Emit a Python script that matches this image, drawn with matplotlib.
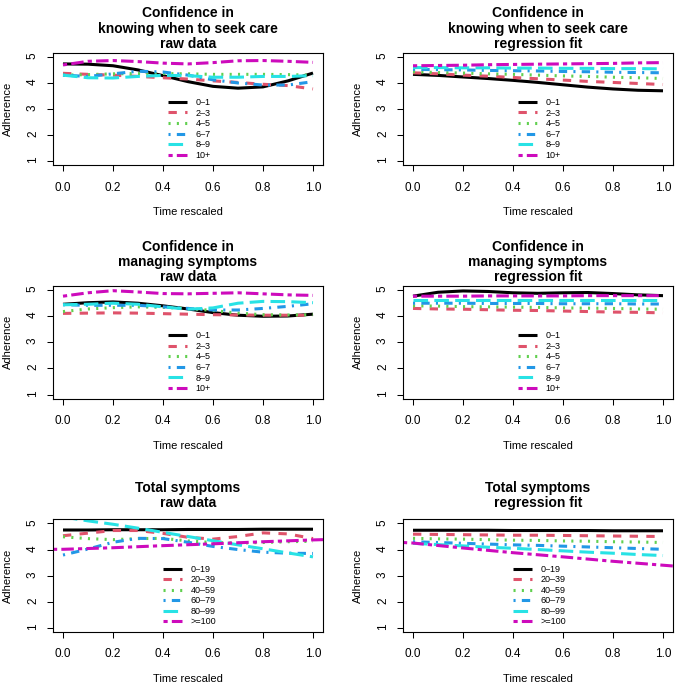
import matplotlib.pyplot as plt

plt.rcParams['font.family'] = ['Liberation Sans', 'DejaVu Sans']
plt.rcParams['lines.scale_dashes'] = False

# time grid (rescaled) and a slightly wider one for lines that run to the box edge
time = [0.0, 0.1, 0.2, 0.3, 0.4, 0.5, 0.6, 0.7, 0.8, 0.9, 1.0]
time_wide = [-0.04, 0.0, 0.2, 0.4, 0.6, 0.8, 1.0, 1.04]

conf_groups = ["0\u20131", "2\u20133", "4\u20135", "6\u20137", "8\u20139", "10+"]
symp_groups = ["0\u201319", "20\u201339", "40\u201359", "60\u201379", "80\u201399", ">=100"]

# Confidence in knowing when to seek care - raw data (one row per group)
care_raw = [
    [4.73, 4.72, 4.66, 4.50, 4.28, 4.05, 3.87, 3.80, 3.85, 4.08, 4.38],
    [4.37, 4.33, 4.30, 4.25, 4.20, 4.15, 4.08, 4.02, 3.95, 3.90, 3.77],
    [4.30, 4.32, 4.35, 4.36, 4.36, 4.35, 4.33, 4.33, 4.33, 4.32, 4.30],
    [4.30, 4.25, 4.35, 4.45, 4.42, 4.30, 4.12, 4.00, 3.92, 3.92, 4.05],
    [4.30, 4.20, 4.19, 4.25, 4.29, 4.28, 4.22, 4.22, 4.25, 4.25, 4.28],
    [4.69, 4.83, 4.86, 4.82, 4.76, 4.73, 4.78, 4.85, 4.86, 4.83, 4.79],
]
# Confidence in knowing when to seek care - regression fit
care_fit = [
    [4.33, 4.29, 4.23, 4.17, 4.10, 4.02, 3.93, 3.84, 3.77, 3.72, 3.70],
    [4.39, 4.35, 4.30, 4.26, 4.21, 4.16, 4.11, 4.06, 4.02, 3.98, 3.94],
    [4.43, 4.40, 4.38, 4.35, 4.33, 4.30, 4.27, 4.25, 4.22, 4.20, 4.17],
    [4.52, 4.51, 4.50, 4.48, 4.47, 4.46, 4.44, 4.43, 4.41, 4.40, 4.39],
    [4.59, 4.59, 4.58, 4.58, 4.57, 4.57, 4.56, 4.56, 4.55, 4.55, 4.54],
    [4.66, 4.67, 4.68, 4.70, 4.71, 4.72, 4.73, 4.74, 4.75, 4.77, 4.78],
]
# Confidence in managing symptoms - raw data
manage_raw = [
    [4.46, 4.52, 4.55, 4.50, 4.40, 4.28, 4.14, 4.04, 4.00, 4.01, 4.08],
    [4.11, 4.12, 4.13, 4.12, 4.10, 4.08, 4.06, 4.05, 4.04, 4.04, 4.04],
    [4.18, 4.28, 4.33, 4.36, 4.34, 4.30, 4.22, 4.12, 4.06, 4.05, 4.06],
    [4.44, 4.42, 4.42, 4.42, 4.36, 4.30, 4.24, 4.24, 4.30, 4.38, 4.48],
    [4.44, 4.46, 4.50, 4.46, 4.36, 4.27, 4.32, 4.50, 4.57, 4.56, 4.52],
    [4.77, 4.90, 4.98, 4.93, 4.87, 4.86, 4.88, 4.90, 4.86, 4.82, 4.80],
]
# Confidence in managing symptoms - regression fit
manage_fit = [
    [4.77, 4.92, 4.97, 4.95, 4.90, 4.88, 4.90, 4.91, 4.87, 4.82, 4.79],
    [4.30, 4.28, 4.27, 4.25, 4.23, 4.22, 4.20, 4.18, 4.16, 4.15, 4.13],
    [4.40, 4.39, 4.37, 4.36, 4.35, 4.34, 4.32, 4.31, 4.30, 4.28, 4.27],
    [4.50, 4.50, 4.50, 4.49, 4.49, 4.49, 4.48, 4.48, 4.48, 4.47, 4.47],
    [4.64, 4.64, 4.64, 4.64, 4.64, 4.64, 4.64, 4.64, 4.64, 4.64, 4.64],
    [4.77, 4.77, 4.77, 4.78, 4.78, 4.78, 4.78, 4.79, 4.79, 4.79, 4.79],
]
# Total symptoms - raw data (last group uses time_wide)
symp_raw = [
    [4.75, 4.75, 4.76, 4.76, 4.76, 4.77, 4.77, 4.77, 4.78, 4.78, 4.78],
    [4.53, 4.63, 4.73, 4.73, 4.62, 4.47, 4.40, 4.50, 4.64, 4.60, 4.42],
    [4.49, 4.42, 4.38, 4.42, 4.43, 4.33, 4.27, 4.25, 4.27, 4.30, 4.32],
    [3.79, 4.02, 4.28, 4.43, 4.42, 4.28, 4.12, 4.00, 3.90, 3.86, 3.85],
    [5.25, 5.10, 4.97, 4.82, 4.66, 4.50, 4.34, 4.18, 4.03, 3.87, 3.72],
]
symp_raw_top = [4.01, 4.01, 4.07, 4.15, 4.22, 4.30, 4.37, 4.38]
# Total symptoms - regression fit
symp_fit = [
    [4.74, 4.74, 4.74, 4.74, 4.73, 4.73, 4.73, 4.73, 4.72, 4.72, 4.72],
    [4.59, 4.58, 4.57, 4.56, 4.55, 4.55, 4.54, 4.53, 4.52, 4.51, 4.50],
    [4.43, 4.41, 4.40, 4.38, 4.36, 4.35, 4.33, 4.32, 4.30, 4.29, 4.27],
    [4.30, 4.27, 4.24, 4.21, 4.18, 4.16, 4.13, 4.10, 4.07, 4.04, 4.01],
    [4.24, 4.19, 4.14, 4.09, 4.05, 4.00, 3.95, 3.90, 3.86, 3.81, 3.77],
]
symp_fit_top = [4.27, 4.25, 4.06, 3.88, 3.72, 3.55, 3.40, 3.37]

colors = ["#000000", "#DF536B", "#61D04F", "#2297E6", "#28E2E5", "#CD0BBC"]
u = 1.5  # R dash unit in points
dash_styles = [None, (0, (4*u, 4*u)), (0, (1*u, 3*u)), (0, (1*u, 3*u, 4*u, 3*u)),
               (0, (7*u, 3*u)), (0, (2*u, 2*u, 6*u, 2*u))]

panels = [
    ("Confidence in\nknowing when to seek care\nraw data", care_raw, None, conf_groups),
    ("Confidence in\nknowing when to seek care\nregression fit", care_fit, None, conf_groups),
    ("Confidence in\nmanaging symptoms\nraw data", manage_raw, None, conf_groups),
    ("Confidence in\nmanaging symptoms\nregression fit", manage_fit, None, conf_groups),
    ("Total symptoms\nraw data", symp_raw, symp_raw_top, symp_groups),
    ("Total symptoms\nregression fit", symp_fit, symp_fit_top, symp_groups),
]

fig = plt.figure(figsize=(7, 7), dpi=100)
W = H = 700.0
col_left = [53, 403]
row_top = [52.7, 286.0, 519.3]
box_w, box_h = 270, 112.7

for i, (title, series, top_series, groups) in enumerate(panels):
    r, c = divmod(i, 2)
    ax = fig.add_axes([col_left[c] / W, 1 - (row_top[r] + box_h) / H, box_w / W, box_h / H])

    for k in range(6):
        if k < 5 or top_series is None:
            xs, ys = time, series[k]
        else:
            xs, ys = time_wide, top_series
        ls = '-' if dash_styles[k] is None else dash_styles[k]
        ax.plot(xs, ys, color=colors[k], linestyle=ls, linewidth=2.2,
                solid_capstyle='butt', label=groups[k])

    ax.set_xlim(-0.04, 1.04)
    ax.set_ylim(0.84, 5.16)
    ax.set_xticks([0.0, 0.2, 0.4, 0.6, 0.8, 1.0])
    ax.set_xticklabels(["0.0", "0.2", "0.4", "0.6", "0.8", "1.0"])
    ax.set_yticks([1, 2, 3, 4, 5])
    ax.tick_params(direction='out', length=4.1, width=0.75, labelsize=8.5, pad=6)
    ax.tick_params(axis='x', pad=7.5)
    for lab in ax.get_yticklabels():
        lab.set_rotation(90)
    for sp in ax.spines.values():
        sp.set_linewidth(0.8)

    ax.set_xlabel("Time rescaled", fontsize=8, va='center')
    ax.xaxis.set_label_coords(0.5, -47 / box_h)
    ax.set_ylabel("Adherence", fontsize=8, va='center')
    ax.yaxis.set_label_coords(-45 / box_w, 0.5)

    ax.annotate(title, xy=(0.5, 1), xycoords='axes fraction', xytext=(0, 24),
                textcoords='offset pixels', ha='center', va='center',
                fontsize=10, fontweight='bold', linespacing=1.12)

    ax.legend(loc='upper center', bbox_to_anchor=(0.505, 0.597), frameon=False,
              fontsize=6.5, handlelength=2.1, handletextpad=1.0,
              labelspacing=0.17, borderpad=0, borderaxespad=0)

fig.savefig("out.png", dpi=100)
